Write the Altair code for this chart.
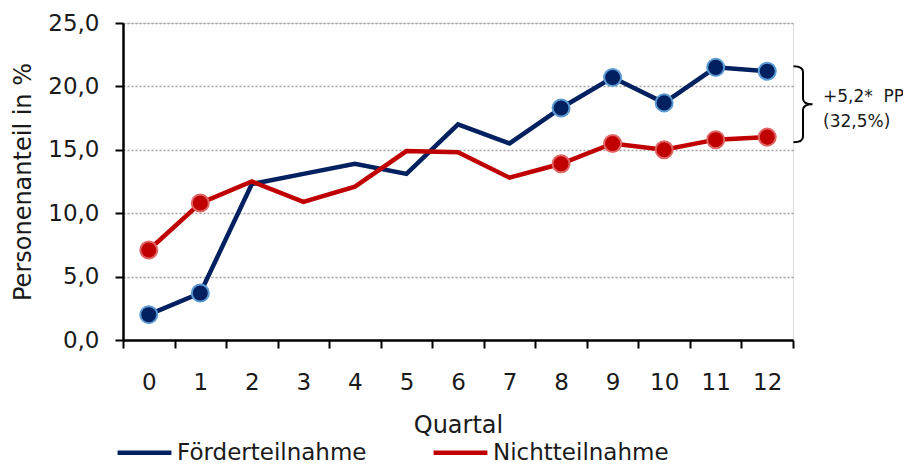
import altair as alt
import pandas as pd

quartale = list(range(13))
foerder = [2.0, 3.7, 12.3, 13.1, 13.9, 13.1, 17.0, 15.5, 18.3, 20.7, 18.7, 21.5, 21.2]
nicht = [7.1, 10.8, 12.5, 10.9, 12.1, 14.9, 14.8, 12.8, 13.9, 15.5, 15.0, 15.8, 16.0]
marker_quartale = [0, 1, 8, 9, 10, 11, 12]
gruppen = ["Förderteilnahme", "Nichtteilnahme"]
farben = ["#002060", "#C00000"]
rand_farben = ["#5B9BD5", "#E06666"]
annot_lines = ["+5,2*\u00a0 PP", "(32,5%)"]

FONT = "DejaVu Sans"
TXT = "#1a1a1a"

rows = []
for q, a, b in zip(quartale, foerder, nicht):
    rows.append({"Quartal": q, "Gruppe": gruppen[0], "Wert": a, "Marker": q in marker_quartale})
    rows.append({"Quartal": q, "Gruppe": gruppen[1], "Wert": b, "Marker": q in marker_quartale})
df = pd.DataFrame(rows)

annot_df = pd.DataFrame({"mid": [(foerder[-1] + nicht[-1]) / 2], "text": [annot_lines]})

x_enc = alt.X(
    "Quartal:O",
    bandPosition=0.5,
    scale=alt.Scale(type="band", paddingInner=0, paddingOuter=0),
    axis=alt.Axis(
        title="Quartal",
        labelAngle=0,
        tickBand="extent",
        tickSize=8,
        tickWidth=2,
        tickColor="#000000",
        domainColor="#000000",
        domainWidth=2.5,
        labelPadding=23,
        labelFontSize=23,
        titleFontSize=24,
        titleFontWeight="normal",
        titlePadding=19,
        labelFont=FONT,
        titleFont=FONT,
        labelColor=TXT,
        titleColor=TXT,
        grid=False,
    ),
)
y_scale = alt.Scale(domain=[0, 25], nice=False, zero=True)
y_enc = alt.Y(
    "Wert:Q",
    scale=y_scale,
    axis=alt.Axis(
        title="Personenanteil in %",
        values=[0, 5, 10, 15, 20, 25],
        labelExpr="replace(format(datum.value, '.1f'), '.', ',')",
        tickSize=8,
        tickWidth=2,
        tickColor="#000000",
        domainColor="#000000",
        domainWidth=2.5,
        labelPadding=16,
        labelFontSize=23,
        titleFontSize=24,
        titleFontWeight="normal",
        titlePadding=12,
        labelFont=FONT,
        titleFont=FONT,
        labelColor=TXT,
        titleColor=TXT,
        grid=True,
        gridColor="#a0a0a0",
        gridDash=[2, 2],
        gridWidth=1.5,
    ),
)

lines = alt.Chart(df).mark_line(strokeWidth=4.5).encode(
    x=x_enc,
    y=y_enc,
    color=alt.Color(
        "Gruppe:N",
        scale=alt.Scale(domain=gruppen, range=farben),
        legend=alt.Legend(
            title=None,
            orient="none",
            legendX=-8,
            legendY=400,
            direction="horizontal",
            symbolType="stroke",
            symbolSize=2900,
            symbolStrokeWidth=4.5,
            labelFontSize=23,
            labelFont=FONT,
            labelColor=TXT,
            labelLimit=400,
            columnPadding=57,
            labelOffset=3,
            padding=0,
        ),
    ),
)

points = []
for g, f, s in zip(gruppen, farben, rand_farben):
    points.append(
        alt.Chart(df)
        .transform_filter((alt.datum.Gruppe == g) & alt.datum.Marker)
        .mark_point(filled=True, size=290, fill=f, stroke=s, strokeWidth=2, opacity=1)
        .encode(x=x_enc, y=y_enc)
    )

brace = alt.Chart(annot_df).mark_point(
    shape="M-0.25,-1 Q0,-1 0,-0.85 L0,-0.15 Q0,0 0.25,0 Q0,0 0,0.15 L0,0.85 Q0,1 -0.25,1",
    filled=False,
    stroke="#000000",
    strokeWidth=2,
    size=5776,
    opacity=1,
).encode(x=alt.value(680), y=alt.Y("mid:Q", scale=y_scale))

annot = alt.Chart(annot_df).mark_text(
    align="left", baseline="middle", fontSize=17, font=FONT, color=TXT, lineHeight=25, dy=-7
).encode(x=alt.value(700), y=alt.Y("mid:Q", scale=y_scale), text="text")

chart = (
    alt.layer(lines, *points, brace, annot)
    .properties(
        width=670,
        height=317,
        autosize=alt.AutoSizeParams(type="none"),
        padding={"left": 115, "top": 15, "right": 110, "bottom": 126},
    )
    .configure_view(stroke=None)
    .configure(background="white")
)

chart.save("out.html", embed_options={"renderer": "svg", "actions": False})
